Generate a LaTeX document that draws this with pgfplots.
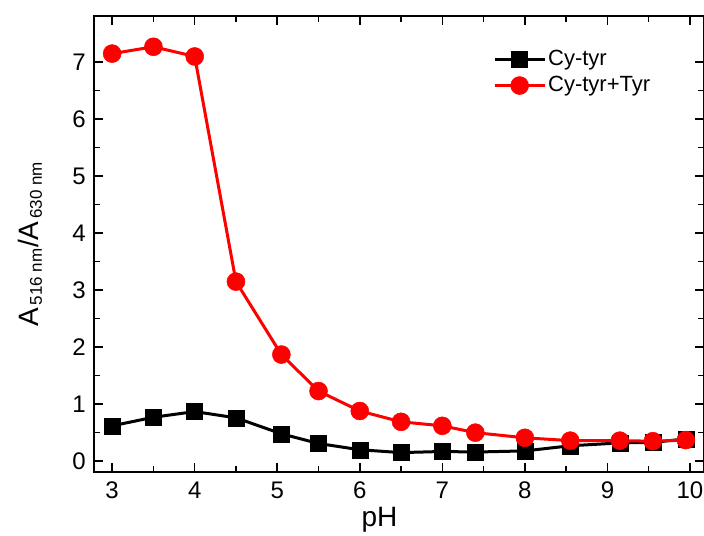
\documentclass[border=0pt]{standalone}
\usepackage{fontspec}
\setmainfont{Liberation Sans}
\usepackage{pgfplots}
\pgfplotsset{compat=1.18}
\begin{document}
\fontsize{24}{29}\selectfont
\begin{tikzpicture}
\begin{axis}[
  name=ax,
  scale only axis,
  width=610pt, height=456pt,
  xmin=2.78, xmax=10.17,
  ymin=-0.19, ymax=7.81,
  axis line style={line width=1.8pt},
  xtick={3,4,...,10}, ytick={0,1,...,7},
  minor x tick num=1, minor y tick num=1,
  tick align=inside,
  major tick length=9pt, minor tick length=6pt,
  tick style={line width=1.5pt, black},
  /pgf/number format/assume math mode=true,
  ticklabel style={font=\fontsize{24}{29}\selectfont},
  xticklabel style={yshift=-2pt},
  xlabel={pH},
  ylabel={A\textsubscript{\fontsize{17}{20}\selectfont\,516 nm}/A\textsubscript{\fontsize{17}{20}\selectfont\,630 nm}},
  every axis x label/.style={at={(axis description cs:0.468,0)}, anchor=center, yshift=-48pt, font=\fontsize{28}{32}\selectfont},
  every axis y label/.style={at={(axis description cs:0,0.5)}, rotate=90, anchor=center, yshift=64pt, font=\fontsize{28}{32}\selectfont},
  legend style={draw=none, fill=none, at={(0.654,0.93)}, anchor=north west, font=\fontsize{22}{26}\selectfont, row sep=3pt, inner sep=0pt},
  legend cell align=left,
  legend image code/.code={\draw[#1] (0pt,0pt) -- (25pt,0pt) -- (50pt,0pt); \path[#1, only marks] plot coordinates {(25pt,0pt)};},
]
\addplot[black, line width=3pt, mark=square*, mark size=8pt, mark options={solid, line width=0.5pt}] coordinates {
(3,0.62) (3.5,0.77) (4,0.87) (4.5,0.76) (5.05,0.48) (5.5,0.31) (6,0.2) (6.5,0.15) (7,0.17) (7.4,0.16) (8,0.18) (8.55,0.27) (9.15,0.32) (9.55,0.33) (9.95,0.39)};
\addlegendentry{Cy-tyr}
\addplot[red, line width=3pt, mark=*, mark size=9pt, mark options={solid, line width=0.5pt}] coordinates {
(3,7.15) (3.5,7.27) (4,7.1) (4.5,3.15) (5.05,1.87) (5.5,1.23) (6,0.88) (6.5,0.69) (7,0.62) (7.4,0.5) (8,0.41) (8.55,0.36) (9.15,0.36) (9.55,0.35) (9.95,0.37)};
\addlegendentry{Cy-tyr+Tyr}
\end{axis}
\pgfresetboundingbox
\path (ax.south west) ++(-94pt,-64pt) rectangle ([shift={(0pt,16pt)}]ax.north east);
\end{tikzpicture}
\end{document}
